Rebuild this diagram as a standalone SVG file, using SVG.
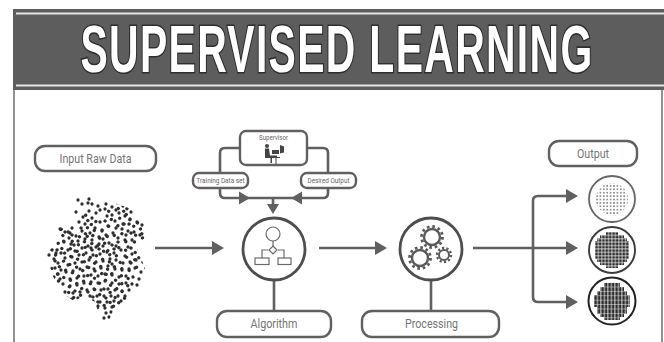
<svg xmlns="http://www.w3.org/2000/svg" width="664" height="342" viewBox="0 0 664 342">
<style>
.ln{fill:none;stroke:#606060;stroke-width:2.6;stroke-linejoin:round}
.pill{fill:#fff;stroke:#606060;stroke-width:2.4}
.head{fill:#606060}
.t{font-family:"Roboto","Liberation Sans",sans-serif;fill:#757575;text-anchor:middle;font-size:13px}
.s{font-size:7.5px;fill:#666}
.ic{fill:#fff;stroke:#6a6a6a;stroke-width:1.2}
.gear{fill:none;stroke:#5a5a5a}
</style>
<defs>
<pattern id="p1" width="3.4" height="3.4" patternUnits="userSpaceOnUse" x="0.3" y="0.6"><circle cx="1.7" cy="1.7" r="0.95" fill="#777"/></pattern>
<pattern id="p2" width="3.4" height="3.4" patternUnits="userSpaceOnUse" x="595" y="232"><rect x="0.3" y="0.3" width="2.7" height="2.7" fill="#2c2c2c"/></pattern>
<pattern id="p3" width="3.5" height="4.4" patternUnits="userSpaceOnUse" x="594" y="283"><rect x="0.3" y="0" width="2.7" height="4" fill="#2c2c2c"/></pattern>
<clipPath id="c1"><circle cx="612" cy="199" r="16"/></clipPath>
<clipPath id="c2"><path d="M606 232h12v3h6v3h3v3h2v18h-2v3h-3v3h-6v3h-12v-3h-6v-3h-3v-3h-2v-18h2v-3h3v-3h6z"/></clipPath>
<clipPath id="c3"><path d="M604 283h16v4h4v4h3v4h3v12h-3v7h-3v3h-4v3h-16v-3h-4v-3h-3v-7h-3v-12h3v-4h3v-4h4z"/></clipPath>
<clipPath id="blob"><path d="M75 197L90 197L108 201L132 209L145 224L147 236L136 246L145 268L142 286L131 297L113 311L109 321L101 320L95 302L84 296L74 301L62 293L53 276L46 255L57 228L72 215Z"/></clipPath>
<path id="dots" fill="none" stroke="#2e2e2e" stroke-width="3.300" stroke-linecap="round" d="M78 200h0M82 204h0M89 199h0M92 204h0M98 206h0M106 204h0M105 209h0M112 207h0M120 203h0M116 210h0M131 212h0M60 229h0M65 232h0M72 228h0M79 222h0M83 217h0M76 212h0M89 211h0M85 224h0M92 218h0M96 213h0M100 222h0M107 216h0M112 215h0M119 213h0M125 216h0M123 224h0M130 219h0M137 222h0M142 225h0M134 232h0M140 235h0M128 231h0M122 229h0M115 221h0M108 226h0M102 231h0M95 228h0M90 233h0M82 231h0M76 236h0M69 238h0M64 242h0M71 244h0M78 241h0M85 239h0M92 240h0M99 237h0M106 235h0M113 233h0M118 238h0M125 240h0M132 240h0M116 246h0M109 243h0M103 246h0M96 247h0M88 246h0M82 248h0M75 251h0M68 250h0M61 253h0M49 255h0M54 259h0M58 263h0M65 258h0M72 257h0M79 255h0M86 253h0M93 255h0M100 254h0M107 252h0M114 253h0M121 250h0M128 247h0M125 256h0M132 254h0M136 260h0M130 262h0M123 263h0M116 260h0M110 259h0M103 261h0M96 262h0M89 260h0M82 262h0M75 263h0M68 265h0M61 270h0M55 268h0M54 277h0M60 279h0M66 272h0M73 271h0M80 269h0M87 267h0M94 269h0M101 268h0M108 266h0M115 269h0M122 270h0M129 269h0M135 268h0M141 272h0M139 279h0M133 277h0M126 276h0M119 277h0M112 275h0M105 274h0M98 276h0M91 275h0M84 276h0M77 278h0M70 279h0M63 284h0M70 286h0M77 285h0M84 283h0M91 282h0M98 283h0M105 281h0M112 283h0M119 284h0M126 283h0M132 284h0M137 285h0M129 290h0M122 291h0M115 290h0M108 289h0M101 290h0M94 289h0M87 290h0M80 292h0M73 293h0M65 292h0M67 298h0M72 299h0M64 297h0M90 296h0M97 296h0M104 296h0M111 296h0M118 296h0M125 296h0M93 301h0M100 302h0M107 302h0M114 301h0M121 301h0M98 306h0M105 308h0M112 307h0M106 313h0M111 312h0M104 318h0M109 317h0M56 253h0M88 203h0M100 210h0M70 233h0M116 228h0M99 244h0M91 248h0M74 245h0M112 264h0M126 235h0M58 274h0M103 239h0M78 298h0M123 206h0"/>
</defs>
<rect width="664" height="342" fill="#fff"/>
<path d="M14 9V342M662 9V342" fill="none" stroke="#777" stroke-width="1.6"/>
<g id="header">
<rect x="13" y="9" width="651" height="81" fill="#5d5d5d"/>
<path d="M16 13.500H664M16 85.500H664" stroke="#e6e6e6" stroke-width="2.200"/>
<text transform="translate(337 72) scale(.66 1.07)" text-anchor="middle" font-family="'Liberation Sans','Arial',sans-serif" font-weight="700" font-size="62" letter-spacing="2" fill="#fff" stroke="#2e2e2e" stroke-width="3" paint-order="stroke">SUPERVISED LEARNING</text>
</g>
<g id="connectors">
<path class="ln" d="M155 248H214M319 248H378M473 248H568"/>
<path class="ln" d="M568 196H538Q533 196 533 201V297Q533 302 538 302H568"/>
<path class="ln" d="M240 148H225Q220 148 220 153V172M220 188V193Q220 198 225 198H323Q328 198 328 193V188M328 172V153Q328 148 323 148H307"/>
<path class="ln" d="M273 198V206M274 280V311M431 280V311"/>
<path class="head" d="M224 248L212 241V255ZM387 248L375 241V255ZM578 196L566 189V203ZM578 248L566 241V255ZM578 302L566 295V309ZM250 198L239 191.500V204.500ZM291 198L302 191.500V204.500ZM273 214L267 204H279Z"/>
</g>
<g id="input-raw-data">
<rect class="pill" x="35" y="146" width="121" height="25" rx="10"/>
<text class="t" x="95.500" y="163" textLength="72" lengthAdjust="spacingAndGlyphs">Input Raw Data</text>
</g>
<g id="raw-data-cloud">
<g clip-path="url(#blob)">
<use href="#dots"/>
<use href="#dots" transform="rotate(37 96 258) translate(2 1)"/>
</g>
</g>
<g id="supervisor">
<rect class="pill" x="240" y="131" width="67" height="34" rx="6"/>
<text class="t s" x="273.500" y="140" textLength="29" lengthAdjust="spacingAndGlyphs">Supervisor</text>
<circle cx="267" cy="146" r="2" fill="#444"/>
<path d="M265 148.500h4l1 7h7v1.500h-5v6h-1.500v-5h-5.500z" fill="#444"/>
<path d="M272 150h7v4h-7zM280 145l4 1.500v6l-4 1zM270 157h10v1h-10z" fill="#444"/>
<path d="M276 158v6" stroke="#444" stroke-width="1"/>
</g>
<g id="training-data-set">
<rect class="pill" x="193" y="173" width="55" height="15" rx="6"/>
<text class="t s" x="220.500" y="183" textLength="48" lengthAdjust="spacingAndGlyphs">Training Data set</text>
</g>
<g id="desired-output">
<rect class="pill" x="301" y="173" width="55" height="15" rx="6"/>
<text class="t s" x="328.500" y="183" textLength="42" lengthAdjust="spacingAndGlyphs">Desired Output</text>
</g>
<g id="algorithm">
<circle cx="274" cy="249" r="31" fill="#fff" stroke="#4e4e4e" stroke-width="2.800"/>
<path d="M273 241V246M268 250H262V258M278 250H284V258" fill="none" stroke="#6a6a6a" stroke-width="1.200"/>
<circle class="ic" cx="273" cy="234" r="7"/>
<path class="ic" d="M273 246l4 4-4 4-4-4z"/>
<rect class="ic" x="255" y="258" width="14" height="6.500"/>
<rect class="ic" x="278" y="258" width="13" height="6.500"/>
</g>
<g id="algorithm-label">
<rect class="pill" x="217" y="311" width="114" height="26" rx="10"/>
<text class="t" x="274" y="328" textLength="47" lengthAdjust="spacingAndGlyphs">Algorithm</text>
</g>
<g id="processing">
<circle cx="431" cy="249" r="31" fill="#fff" stroke="#4e4e4e" stroke-width="2.800"/>
<circle class="gear" cx="432" cy="237" r="8" stroke-width="2.400"/>
<circle class="gear" cx="432" cy="237" r="10.500" stroke-width="2.800" stroke-dasharray="2.600 2.900"/>
<circle class="gear" cx="420" cy="258" r="8" stroke-width="2.400"/>
<circle class="gear" cx="420" cy="258" r="10.500" stroke-width="2.800" stroke-dasharray="2.600 2.900"/>
<circle class="gear" cx="444" cy="255" r="5" stroke-width="2"/>
<circle class="gear" cx="444" cy="255" r="7" stroke-width="2.400" stroke-dasharray="2.200 2.200"/>
</g>
<g id="processing-label">
<rect class="pill" x="362" y="311" width="137" height="26" rx="10"/>
<text class="t" x="431.500" y="328" textLength="53" lengthAdjust="spacingAndGlyphs">Processing</text>
</g>
<g id="output">
<rect class="pill" x="549" y="141" width="88" height="25" rx="10"/>
<text class="t" x="593" y="158" textLength="32" lengthAdjust="spacingAndGlyphs">Output</text>
</g>
<g id="output-1">
<circle cx="612" cy="199" r="23" fill="#fff" stroke="#666" stroke-width="1.800"/>
<rect x="594" y="181" width="36" height="36" fill="url(#p1)" clip-path="url(#c1)"/>
</g>
<g id="output-2">
<circle cx="612" cy="250" r="23" fill="#fff" stroke="#3c3c3c" stroke-width="1.900"/>
<rect x="594" y="231" width="36" height="38" fill="url(#p2)" clip-path="url(#c2)"/>
</g>
<g id="output-3">
<circle cx="612" cy="301" r="23.500" fill="#fff" stroke="#222" stroke-width="2"/>
<rect x="592" y="281" width="40" height="40" fill="url(#p3)" clip-path="url(#c3)"/>
</g>
</svg>
